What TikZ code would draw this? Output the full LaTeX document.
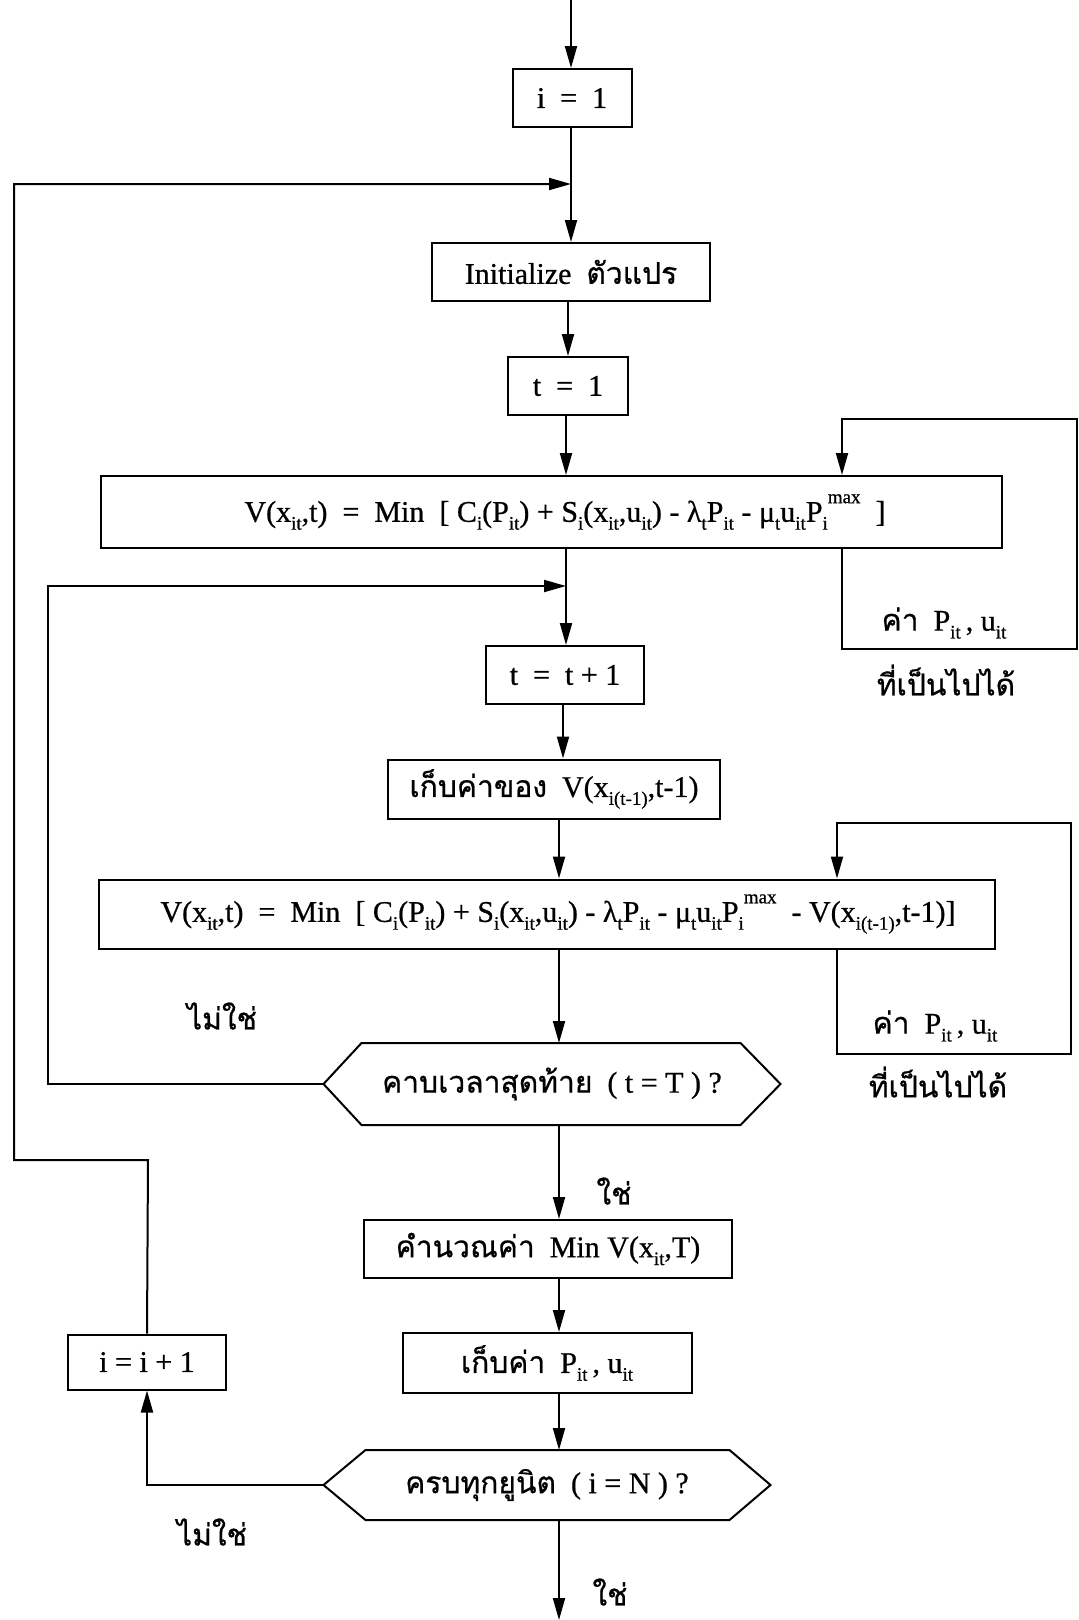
\documentclass[tikz,border=0pt]{standalone}
\usepackage{fontspec}
\setmainfont{Liberation Serif}[FakeBold=0.7]
\newfontfamily\thai[Script=Thai,FakeBold=0.7]{Loma}
\usetikzlibrary{arrows.meta}

\newcommand\mysb[1]{\raisebox{-0.26em}{\fontsize{19}{19}\selectfont #1}}
\newcommand\maxsp{\raisebox{0.62em}{\fontsize{19}{19}\selectfont max}}

\begin{document}
\begin{tikzpicture}[x=1pt,y=-1pt,line width=2pt,
  >={Triangle[length=22pt,width=12pt]},
  every node/.style={font=\fontsize{30}{34}\selectfont},
  box/.style={draw,line width=2pt,inner sep=0pt,minimum height=58pt},
  hexa/.style={inner sep=0pt},
  lbl/.style={inner sep=0pt}]

\useasboundingbox (0,0) rectangle (1079,1620);

% main column
\node[box,minimum width=119pt] (i1) at (572,98) {i~~=~~1};
\node[box,minimum width=278pt] (init) at (571,272) {Initialize~~{\thai ตัวแปร}};
\node[box,minimum width=120pt] (t1) at (568,386) {t~~=~~1};
\node[box,minimum width=901pt,minimum height=72pt] (v1) at (551,512)
  {\hspace*{28pt}V(x\mysb{it},t)~~=~~Min~~[ C\mysb{i}(P\mysb{it}) + S\mysb{i}(x\mysb{it},u\mysb{it}) - λ\mysb{t}P\mysb{it} - μ\mysb{t}u\mysb{it}P\mysb{i}\maxsp~~]};
\node[box,minimum width=158pt] (tt1) at (565,675) {t~~=~~t + 1};
\node[box,minimum width=332pt,minimum height=59pt] (keep1) at (554,789)
  {{\thai เก็บค่าของ}~~V(x\mysb{i(t-1)},t-1)};
\node[box,minimum width=896pt,minimum height=69pt] (v2) at (547,914)
  {\hspace*{22pt}V(x\mysb{it},t)~~=~~Min~~[ C\mysb{i}(P\mysb{it}) + S\mysb{i}(x\mysb{it},u\mysb{it}) - λ\mysb{t}P\mysb{it} - μ\mysb{t}u\mysb{it}P\mysb{i}\maxsp~~- V(x\mysb{i(t-1)},t-1)]};
\node[hexa,minimum width=455pt,minimum height=80pt] (h1) at (552,1084)
  {{\thai คาบเวลาสุดท้าย}~~( t = T ) ?};
\node[box,minimum width=368pt] (calc) at (548,1249) {{\thai คำนวณค่า}~~Min V(x\mysb{it},T)};
\node[box,minimum width=289pt,minimum height=60pt] (keepP) at (547,1363) {{\thai เก็บค่า}~~P\mysb{it}\,, u\mysb{it}};
\node[hexa,minimum width=445pt,minimum height=68pt] (h2) at (547,1485)
  {{\thai ครบทุกยูนิต}~~( i = N ) ?};
\node[box,minimum width=158pt,minimum height=55pt] (inc) at (147,1362) {i = i + 1};

% hexagonal decision outlines
\draw (h1.west) -- ([xshift=38pt]h1.north west) -- ([xshift=-40pt]h1.north east)
  -- (h1.east) -- ([xshift=-40pt]h1.south east) -- ([xshift=38pt]h1.south west) -- cycle;
\draw (h2.west) -- ([xshift=42pt]h2.north west) -- ([xshift=-41pt]h2.north east)
  -- (h2.east) -- ([xshift=-41pt]h2.south east) -- ([xshift=42pt]h2.south west) -- cycle;

% spine positions
\coordinate (topin) at (571,0);
\coordinate (endout) at (559,1620);
\coordinate (loopA) at (14,184);
\coordinate (loopB) at (48,586);

\draw[->] (topin) -- (topin |- i1.north);
\draw[->] (i1.south -| topin) -- (init.north -| topin);
\draw[->] ([xshift=-3pt]init.south -| topin) -- ([xshift=-3pt]t1.north -| topin);
\draw[->] ([xshift=-5pt]t1.south -| topin) -- ([xshift=-5pt]v1.north -| topin);
\draw[->] ([xshift=-5pt]v1.south -| topin) -- ([xshift=-5pt]tt1.north -| topin);
\draw[->] ([xshift=-8pt]tt1.south -| topin) -- ([xshift=-8pt]keep1.north -| topin);
\draw[->] ([xshift=-12pt]keep1.south -| topin) -- ([xshift=-12pt]v2.north -| topin);
\draw[->] ([xshift=-12pt]v2.south -| topin) -- ([xshift=-12pt]h1.north -| topin);
\draw[->] ([xshift=-12pt]h1.south -| topin) -- ([xshift=-12pt]calc.north -| topin);
\draw[->] ([xshift=-12pt]calc.south -| topin) -- ([xshift=-12pt]keepP.north -| topin);
\draw[->] ([xshift=-12pt]keepP.south -| topin) -- ([xshift=-12pt]h2.north -| topin);
\draw[->] (h2.south -| endout) -- (endout);

% outer loop over units
\draw[->] (h2.west) -- (h2.west -| inc) -- (inc.south);
\draw[->] (inc.north) -- (148,1160) -- (loopA |- 0,1160) -- (loopA) -- (topin |- loopA);

% loop over periods
\draw[->] (h1.west) -- (loopB |- h1.west) -- (loopB) -- ([xshift=-5pt]topin |- loopB);

% feasible-value loops
\draw[->] (v1.south -| 842,0) -- (842,649) -- (1077,649) -- (1077,419) -- (842,419) -- (v1.north -| 842,0);
\draw[->] (v2.south -| 837,0) -- (837,1054) -- (1071,1054) -- (1071,823) -- (837,823) -- (v2.north -| 837,0);

\node[lbl] (f1) at (944,623) {{\thai ค่า}~~P\mysb{it}\,, u\mysb{it}};
\node[lbl] (g1) at (946,680) {\thai ที่เป็นไปได้};
\node[lbl] (f2) at (935,1026) {{\thai ค่า}~~P\mysb{it}\,, u\mysb{it}};
\node[lbl] (g2) at (938,1082) {\thai ที่เป็นไปได้};

% decision labels
\node[lbl] (no1) at (222,1016) {\thai ไม่ใช่};
\node[lbl] (yes1) at (614,1191) {\thai ใช่};
\node[lbl] (no2) at (212,1532) {\thai ไม่ใช่};
\node[lbl] (yes2) at (610,1592) {\thai ใช่};
\end{tikzpicture}
\end{document}
